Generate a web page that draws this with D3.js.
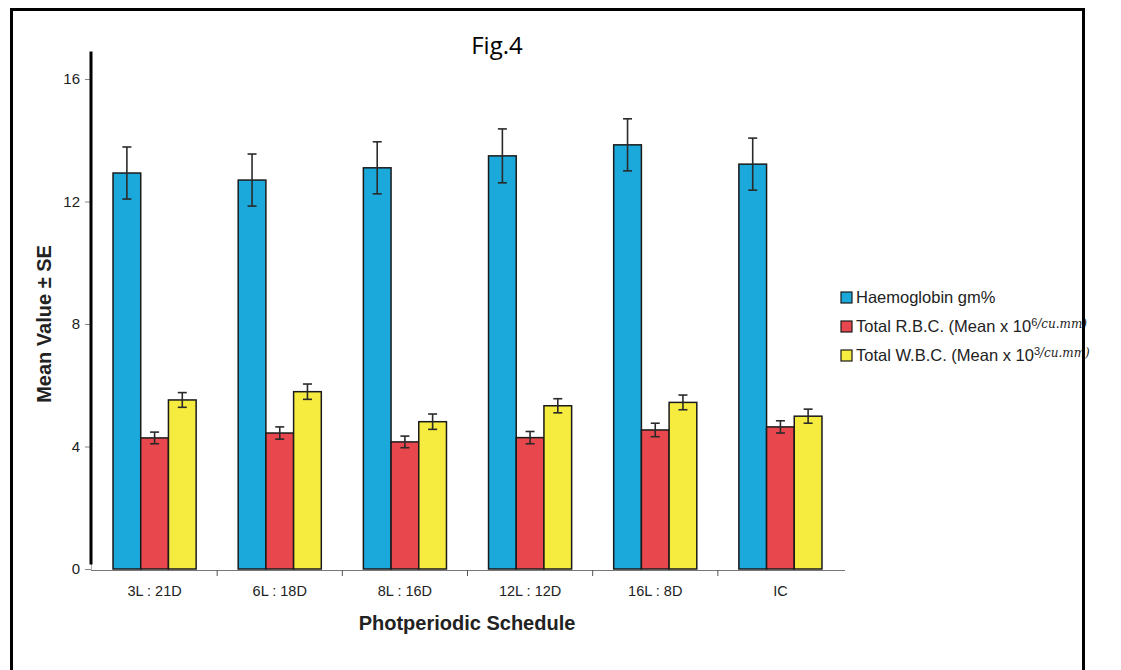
<!DOCTYPE html>
<html>
<head>
<meta charset="utf-8">
<script src="https://cdn.jsdelivr.net/npm/d3@7"></script>
<style>
  body { margin: 0; background: #fff; }
  text { font-family: "Liberation Sans", Arial, sans-serif; fill: #222; }
</style>
</head>
<body>
<div id="chart"></div>
<script>
// Data
const categories = ["3L : 21D", "6L : 18D", "8L : 16D", "12L : 12D", "16L : 8D", "IC"];
const series = ["hb", "rbc", "wbc"];
const hbMean = [12.93, 12.70, 13.10, 13.49, 13.85, 13.22];
const hbSE   = [0.85, 0.85, 0.85, 0.88, 0.85, 0.85];
const rbcMean = [4.28, 4.44, 4.15, 4.29, 4.54, 4.64];
const rbcSE   = [0.19, 0.20, 0.19, 0.20, 0.22, 0.20];
const wbcMean = [5.52, 5.79, 4.81, 5.33, 5.44, 4.99];
const wbcSE   = [0.24, 0.25, 0.25, 0.23, 0.24, 0.23];
const yTicks = [0, 4, 8, 12, 16];

const colors = { hb: "#1ba8db", rbc: "#e8474d", wbc: "#f6ec3f" };

const width = 1121;
const height = 670;

const svg = d3.select("#chart")
    .append("svg")
    .attr("width", width)
    .attr("height", height);

// scales
const x0 = d3.scaleBand().domain(categories).range([92, 843]);
const x1 = d3.scaleBand().domain(series)
    .range([x0.bandwidth() * 0.168, x0.bandwidth() * 0.832]);
const y = d3.scaleLinear().domain([0, 16]).range([569, 79]);

const rows = categories.map((c, i) => ({
    cat: c,
    vals: [
        { key: "hb", mean: hbMean[i], se: hbSE[i] },
        { key: "rbc", mean: rbcMean[i], se: rbcSE[i] },
        { key: "wbc", mean: wbcMean[i], se: wbcSE[i] }
    ]
}));

// y axis (thin ticks + thick black line)
svg.append("g")
    .attr("transform", "translate(91,0)")
    .call(d3.axisLeft(y).tickValues(yTicks).tickSize(6).tickPadding(5))
    .call(g => g.select(".domain").attr("stroke", "#aaa"))
    .call(g => g.selectAll(".tick line").attr("stroke", "#888"))
    .call(g => g.selectAll(".tick text")
        .attr("font-size", null)
        .style("font-size", "15px")
        .style("fill", "#222")
        .style("font-family", "'Liberation Sans', Arial, sans-serif"));

svg.append("line")
    .attr("x1", 91).attr("x2", 91)
    .attr("y1", y(16.9)).attr("y2", y(0.15))
    .attr("stroke", "#000").attr("stroke-width", 3);

// x axis
svg.append("line")
    .attr("x1", 91).attr("x2", 845)
    .attr("y1", 570.5).attr("y2", 570.5)
    .attr("stroke", "#777").attr("stroke-width", 1.2);

svg.append("g").selectAll("line")
    .data(categories.slice(1))
    .enter().append("line")
    .attr("x1", d => x0(d)).attr("x2", d => x0(d))
    .attr("y1", 570).attr("y2", 576)
    .attr("stroke", "#555");

svg.append("g").selectAll("text")
    .data(categories)
    .enter().append("text")
    .attr("x", d => x0(d) + x0.bandwidth() / 2)
    .attr("y", 596)
    .attr("text-anchor", "middle")
    .style("font-size", "14.5px")
    .text(d => d);

// bars
const groups = svg.append("g")
    .selectAll("g")
    .data(rows)
    .enter().append("g")
    .attr("transform", d => `translate(${x0(d.cat)},0)`);

groups.selectAll("rect")
    .data(d => d.vals)
    .enter().append("rect")
    .attr("x", d => x1(d.key))
    .attr("y", d => y(d.mean))
    .attr("width", x1.bandwidth())
    .attr("height", d => y(0) - y(d.mean))
    .attr("fill", d => colors[d.key])
    .attr("stroke", "#1a1a1a")
    .attr("stroke-width", 1.5);

// error bars
const err = groups.selectAll(".err")
    .data(d => d.vals)
    .enter().append("g")
    .attr("class", "err")
    .attr("stroke", "#2a2a2a")
    .attr("stroke-width", 1.6);

err.append("line")
    .attr("x1", d => x1(d.key) + x1.bandwidth() / 2)
    .attr("x2", d => x1(d.key) + x1.bandwidth() / 2)
    .attr("y1", d => y(d.mean + d.se))
    .attr("y2", d => y(d.mean - d.se));

[1, -1].forEach(s => {
    err.append("line")
        .attr("x1", d => x1(d.key) + x1.bandwidth() / 2 - 4.5)
        .attr("x2", d => x1(d.key) + x1.bandwidth() / 2 + 4.5)
        .attr("y1", d => y(d.mean + s * d.se))
        .attr("y2", d => y(d.mean + s * d.se));
});

// titles
svg.append("text")
    .attr("x", 497).attr("y", 54)
    .attr("text-anchor", "middle")
    .style("font-size", "24px")
    .style("font-family", "'Open Sans', 'Liberation Sans', sans-serif")
    .style("fill", "#000")
    .text("Fig.4");

svg.append("text")
    .attr("transform", "translate(51,324) rotate(-90)")
    .attr("text-anchor", "middle")
    .style("font-size", "20px")
    .attr("font-weight", "bold")
    .text("Mean Value \u00b1 SE");

svg.append("text")
    .attr("x", 467).attr("y", 630)
    .attr("text-anchor", "middle")
    .style("font-size", "20px")
    .attr("font-weight", "bold")
    .text("Photperiodic Schedule");

// legend
const legendItems = [
    { key: "hb", label: "Haemoglobin gm%", hand: "" },
    { key: "rbc", label: "Total R.B.C. (Mean x 10", sup: "6", hand: "/cu.mm)" },
    { key: "wbc", label: "Total W.B.C. (Mean x 10", sup: "3", hand: "/cu.mm)" }
];

const legend = svg.append("g").selectAll("g")
    .data(legendItems)
    .enter().append("g")
    .attr("transform", (d, i) => `translate(841,${292 + i * 29})`);

legend.append("rect")
    .attr("width", 11).attr("height", 11)
    .attr("fill", d => colors[d.key])
    .attr("stroke", "#1a1a1a")
    .attr("stroke-width", 1.2);

const lt = legend.append("text")
    .attr("x", 15).attr("y", 11)
    .style("font-size", "16.5px");
lt.append("tspan").text(d => d.label);
lt.append("tspan")
    .attr("dy", -6)
    .style("font-size", "11px")
    .text(d => d.sup || "");
lt.append("tspan")
    .attr("dy", d => d.sup ? 2 : 0)
    .attr("font-style", "italic")
    .style("font-size", "12px")
    .style("font-family", "'DejaVu Serif', serif")
    .text(d => d.hand);

// page border, drawn last so it sits over the overflowing legend text
svg.append("rect")
    .attr("x", 11.5).attr("y", 9.5)
    .attr("width", 1072).attr("height", 700)
    .attr("fill", "none")
    .attr("stroke", "#000")
    .attr("stroke-width", 3);
</script>
</body>
</html>
